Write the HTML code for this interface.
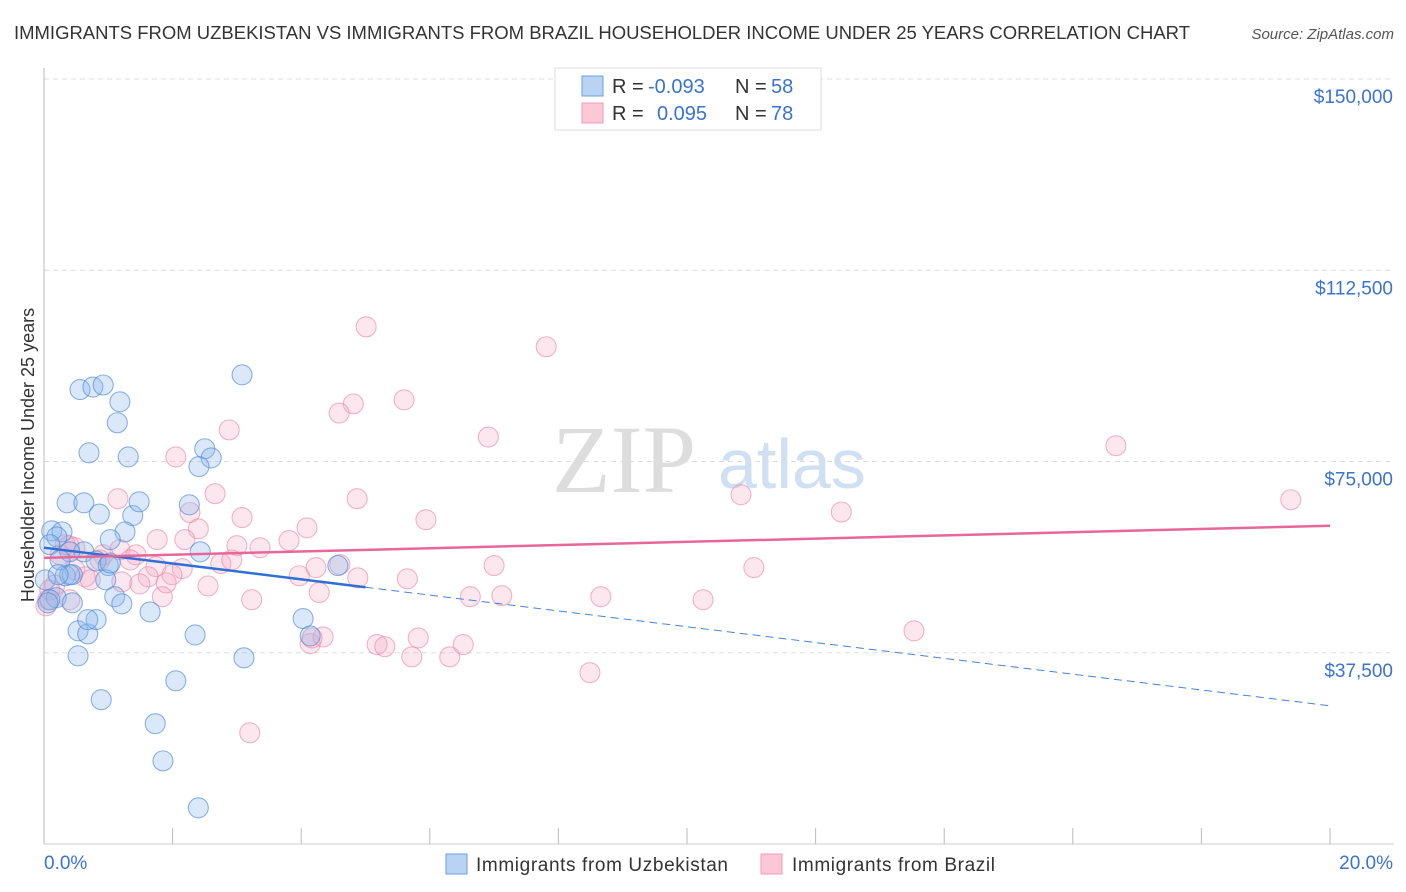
<!DOCTYPE html>
<html><head><meta charset="utf-8"><style>
body{margin:0;background:#fff;font-family:"Liberation Sans",sans-serif;}
svg{display:block}
</style></head><body>
<svg id="chart" width="1406" height="892">
<text x="14" y="39" font-size="18" fill="#333" textLength="1176" lengthAdjust="spacingAndGlyphs">IMMIGRANTS FROM UZBEKISTAN VS IMMIGRANTS FROM BRAZIL HOUSEHOLDER INCOME UNDER 25 YEARS CORRELATION CHART</text>
<text x="1394" y="39" font-size="15" fill="#555" font-style="italic" text-anchor="end">Source: ZipAtlas.com</text>
<g>
<text x="552" y="492" font-size="96" font-family="Liberation Serif,serif" fill="#ddd">ZIP</text>
<text x="718" y="488" font-size="70" fill="#cfe0f3">atlas</text>
</g>
<g id="grid"></g>
<g id="axes"></g>
<g id="marks"></g>
<text transform="translate(34,455) rotate(-90)" font-size="18" fill="#333" text-anchor="middle">Householder Income Under 25 years</text>
<g>
<rect x="555" y="68" width="266" height="62" fill="#fff" stroke="#ddd"/>
<rect x="582" y="76" width="21" height="20" fill="#b9d3f3" stroke="#6a9fe2"/>
<rect x="582" y="103" width="21" height="20" fill="#fcc8d7" stroke="#f09ab5"/>
<text y="93" font-size="20" fill="#333"><tspan x="612">R =</tspan><tspan x="648" fill="#3a73d0">-0.093</tspan><tspan x="735">N =</tspan><tspan x="771" fill="#3a73d0">58</tspan></text>
<text y="120" font-size="20" fill="#333"><tspan x="612">R =</tspan><tspan x="657" fill="#3a73d0">0.095</tspan><tspan x="735">N =</tspan><tspan x="771" fill="#3a73d0">78</tspan></text>
</g>
<g>
<rect x="446" y="854" width="21" height="20" fill="#b9d3f3" stroke="#6a9fe2"/>
<text x="476" y="871" font-size="19" fill="#333" textLength="252">Immigrants from Uzbekistan</text>
<rect x="761" y="854" width="21" height="20" fill="#fcc8d7" stroke="#f09ab5"/>
<text x="792" y="871" font-size="19" fill="#333" textLength="203">Immigrants from Brazil</text>
</g>
</svg>
<script>
const yTicks=[37500,75000,112500,150000];
const yTickLabels=["$37,500","$75,000","$112,500","$150,000"];
const xTickLabels=["0.0%","20.0%"];
const uzX=[0.12,0.28,0.20,0.09,0.36,0.62,0.56,0.76,0.92,1.18,1.14,0.70,1.31,0.86,1.38,1.48,1.26,1.03,0.62,0.40,0.25,0.33,0.44,0.19,0.09,0.44,0.81,1.00,0.96,1.10,1.21,1.65,0.53,0.68,0.81,0.68,0.53,0.89,1.73,1.85,2.05,2.35,2.40,3.11,3.08,2.50,2.60,2.41,2.26,2.43,4.03,4.14,4.57,0.06,0.02,0.40,0.22,1.03];
const uzY=[61.4,61.2,60.2,58.7,66.9,66.9,89.1,89.6,90.0,86.7,82.6,76.7,75.9,64.7,64.4,67.1,61.2,59.7,57.3,57.3,55.7,52.6,52.8,48.3,47.9,47.3,55.5,54.6,51.8,48.5,47.1,45.5,41.8,41.2,44.0,44.0,36.9,28.3,23.6,16.3,32.0,41.0,7.1,36.5,92.0,77.5,75.7,74.0,66.5,57.3,44.2,40.8,54.6,47.3,51.8,52.8,52.8,55.1];
const brX=[5.01,7.81,5.60,4.81,4.59,2.88,2.05,6.91,16.67,19.39,10.84,12.40,2.66,1.15,2.27,3.08,5.94,2.40,4.09,3.81,1.76,2.19,3.00,3.36,4.87,1.18,1.43,0.48,0.92,0.39,1.34,1.74,2.15,2.75,2.92,1.99,1.62,1.21,1.49,1.90,3.97,4.23,4.60,4.88,5.65,7.00,11.04,2.55,3.23,4.28,1.84,6.63,7.12,8.66,10.25,13.53,4.14,4.34,4.17,5.18,5.30,5.82,6.52,5.72,6.31,8.49,3.20,0.25,0.48,0.64,0.17,0.06,0.03,0.09,0.33,0.72,0.87,0.40];
const brY=[101.4,97.5,87.1,86.3,84.5,81.2,75.9,79.8,78.1,67.5,68.5,65.1,68.7,67.7,65.0,64.0,63.6,61.8,62.0,59.5,59.7,59.7,58.5,58.1,67.7,57.7,56.7,58.1,56.7,58.5,55.7,54.4,54.0,55.0,55.7,52.8,52.4,51.4,51.0,51.2,52.6,54.2,54.8,52.2,52.0,54.6,54.2,50.6,47.9,49.3,48.5,48.5,48.7,48.5,47.9,41.8,39.3,40.6,40.4,39.1,38.7,40.4,39.1,36.7,36.7,33.6,21.8,56.7,53.8,52.4,50.8,47.9,46.7,49.8,58.7,51.8,55.7,47.9];
const uzTrend=[58.1,27.1];
const brTrend=[56.1,62.4];
const uzSolidEnd=5.0;

const X=p=>44+p*(1330-44)/20;
const Y=k=>844-k*1000*(844-79)/150000;
const NS="http://www.w3.org/2000/svg";
function mk(tag,attrs,parent){const e=document.createElementNS(NS,tag);for(const k in attrs)e.setAttribute(k,attrs[k]);parent.appendChild(e);return e;}
const grid=document.getElementById('grid'),axes=document.getElementById('axes'),marks=document.getElementById('marks');
yTicks.forEach((t,i)=>{
  const y=Y(t/1000);
  const l=mk('line',{x1:44,x2:1394,y1:y,y2:y,stroke:'#ddd','stroke-dasharray':'5,4'},grid);
  
  
  const tx=mk('text',{x:1393,y:y+24,'font-size':19,fill:'#3a73d0','text-anchor':'end'},axes);
  tx.textContent=yTickLabels[i];
  
  
});
const ax=mk('line',{x1:44,x2:44,y1:68,y2:844,stroke:'#bbb'},axes);


const bx=mk('line',{x1:44,x2:1394,y1:844,y2:844,stroke:'#ccc'},axes);


for(let i=0;i<=10;i++){
  const x=X(i*2);
  const t=mk('line',{x1:x,x2:x,y1:828,y2:844,stroke:'#bbb'},axes);
  
  
}
[[0,44,'start'],[20,1393,'end']].forEach((d,i)=>{
  const t=mk('text',{x:d[1],y:869,'font-size':19,fill:'#3a73d0','text-anchor':d[2]},axes);
  t.textContent=xTickLabels[i];
  
  
});
brX.forEach((v,i)=>{
  const c=mk('circle',{cx:X(v),cy:Y(brY[i]),r:10,fill:'rgba(246,170,195,0.28)',stroke:'rgba(236,140,172,0.65)','stroke-width':1.1},marks);
  
  
});
uzX.forEach((v,i)=>{
  const c=mk('circle',{cx:X(v),cy:Y(uzY[i]),r:10,fill:'rgba(140,182,235,0.32)',stroke:'rgba(80,138,218,0.65)','stroke-width':1.1},marks);
  
  
});
const uzAt=p=>uzTrend[0]+(uzTrend[1]-uzTrend[0])*p/20;
const l1=mk('line',{x1:X(0),y1:Y(uzTrend[0]),x2:X(uzSolidEnd),y2:Y(uzAt(uzSolidEnd)),stroke:'#2f6fd6','stroke-width':2.5},marks);


const l2=mk('line',{x1:X(uzSolidEnd),y1:Y(uzAt(uzSolidEnd)),x2:X(20),y2:Y(uzTrend[1]),stroke:'#4a82d8','stroke-width':1,'stroke-dasharray':'8,5'},marks);


const l3=mk('line',{x1:X(0),y1:Y(brTrend[0]),x2:X(20),y2:Y(brTrend[1]),stroke:'#e8679a','stroke-width':2.5},marks);


</script>
</body></html>
